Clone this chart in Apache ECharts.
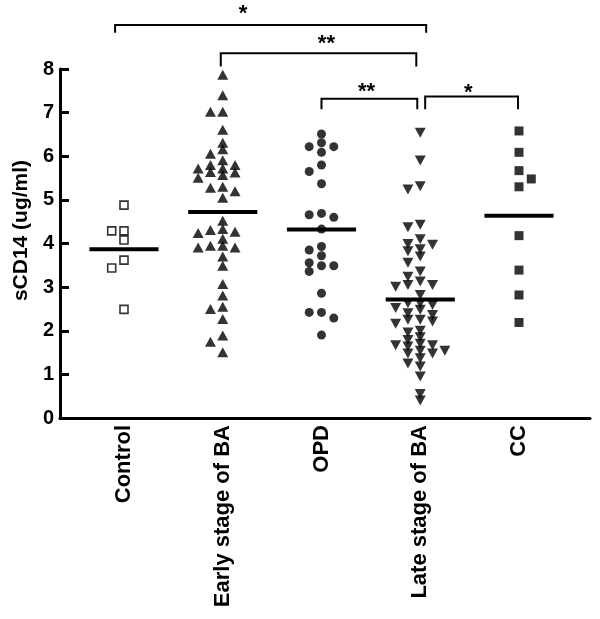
<!DOCTYPE html>
<html><head><meta charset="utf-8">
<script src="https://cdn.jsdelivr.net/npm/echarts@6/dist/echarts.min.js"></script>
<style>html,body{margin:0;padding:0;background:#fff}#c{width:600px;height:619px}</style>
</head><body><div id="c"></div>
<script>
// ---- data ----
const categories = ['Control', 'Early stage of BA', 'OPD', 'Late stage of BA', 'CC'];
const controlVals = [4.88, 4.29, 4.29, 4.08, 3.62, 3.44, 2.49];
const earlyVals = [7.87, 7.40, 7.02, 7.02, 6.61, 6.31, 6.16, 6.06, 5.91, 5.80, 5.80, 5.72, 5.72, 5.64, 5.63, 5.57, 5.51, 5.30, 5.28, 5.20, 5.05,
  4.52, 4.33, 4.31, 4.27, 4.24, 4.11, 3.95, 3.95, 3.91, 3.91, 3.70, 3.49, 3.07, 2.81, 2.55, 2.50, 2.27, 1.89, 1.75, 1.51];
const opdVals = [6.51, 6.31, 6.22, 6.22, 6.09, 5.80, 5.65, 5.37, 4.69, 4.66, 4.60, 4.33, 3.93, 3.85, 3.72, 3.56, 3.49, 3.49, 3.36, 2.86, 2.42, 2.42, 2.29, 1.90];
const lateVals = [6.54, 5.90, 5.31, 5.24, 4.43, 4.37, 4.10, 3.99, 3.97, 3.87, 3.82, 3.70, 3.56, 3.36, 3.24, 3.13, 3.05, 3.05, 3.01, 2.82,
  2.63, 2.63, 2.59, 2.52, 2.48, 2.40, 2.36, 2.25, 2.25, 2.21, 2.16, 2.00, 1.96, 1.85, 1.79, 1.70, 1.67, 1.67, 1.64, 1.54, 1.54, 1.48, 1.48,
  1.37, 1.25, 1.18, 0.95, 0.55, 0.40];
const ccVals = [6.58, 6.09, 5.67, 5.48, 5.30, 4.18, 3.39, 2.82, 2.19];
const yTickValues = [0, 1, 2, 3, 4, 5, 6, 7, 8];
const comparisons = [
  { from: 0, to: 3, label: '*' },
  { from: 1, to: 3, label: '**' },
  { from: 2, to: 3, label: '**' },
  { from: 3, to: 4, label: '*' }
];

// ---- layout / style ----
const FONT = 'Liberation Sans, Arial, sans-serif';
const SLOT = 0.1245;      // horizontal spacing of jittered points (category units)
const bracketLayout = [
  { x1: -0.09, x2: 3.06, y: 9.01, leg: 0.18, lx: 1.205, ly: 9.40 },
  { x1: 0.98, x2: 2.96, y: 8.36, leg: 0.30, lx: 2.05, ly: 8.71 },
  { x1: 2.00, x2: 2.97, y: 7.32, leg: 0.24, lx: 2.457, ly: 7.61 },
  { x1: 3.05, x2: 3.99, y: 7.37, leg: 0.29, lx: 3.486, ly: 7.60 }
];

// column-scatter layout: each point goes to the first free slot
function swarm(vals, ci, minGap, firstSide) {
  const order = vals.map((v, i) => i).sort((a, b) => vals[b] - vals[a]);
  const placed = [];
  const out = new Array(vals.length);
  const f = firstSide;
  const cand = [0, f, -f, 2 * f, -2 * f, 3 * f, -3 * f, 4 * f, -4 * f];
  for (const i of order) {
    const v = vals[i];
    for (const s of cand) {
      if (!placed.some(p => p.s === s && Math.abs(p.v - v) < minGap - 1e-9)) {
        placed.push({ s, v });
        out[i] = [ci + s * SLOT, v];
        break;
      }
    }
  }
  return out;
}
const mean = a => a.reduce((s, v) => s + v, 0) / a.length;
const groups = [controlVals, earlyVals, opdVals, lateVals, ccVals];
const means = groups.map((g, i) => [i, mean(g)]);

const chart = echarts.init(document.getElementById('c'), null, { renderer: 'canvas' });

const scatterBase = { type: 'scatter', z: 3, itemStyle: { color: '#000' } };

chart.setOption({
  animation: false,
  backgroundColor: '#fff',
  grid: { left: 60, right: 10, top: 69, bottom: 201, containLabel: false },
  xAxis: {
    type: 'value', min: -0.648, max: 4.719,
    axisLine: { show: true, onZero: false, lineStyle: { color: '#000', width: 3 } },
    axisTick: { show: false },
    splitLine: { show: false },
    axisLabel: {
      customValues: [0, 1, 2, 3, 4],
      formatter: v => categories[Math.round(v)],
      rotate: 90, margin: 7,
      color: '#000', fontFamily: FONT, fontWeight: 'bold', fontSize: 22
    }
  },
  yAxis: {
    type: 'value', min: 0, max: 8, interval: 1,
    axisLine: { show: true, onZero: false, lineStyle: { color: '#000', width: 3 } },
    axisTick: { show: true, inside: true, length: 9, lineStyle: { color: '#000', width: 3 } },
    splitLine: { show: false },
    axisLabel: {
      margin: 6, color: '#000', fontFamily: FONT, fontWeight: 'bold', fontSize: 20,
      formatter: v => yTickValues.includes(v) ? String(v) : ''
    },
    name: 'sCD14 (ug/ml)', nameLocation: 'middle', nameGap: 28, nameRotate: 90,
    nameTextStyle: { color: '#000', fontFamily: FONT, fontWeight: 'bold', fontSize: 21, padding: [0, 0, 0, 26] }
  },
  series: [
    Object.assign({}, scatterBase, {
      name: categories[0], data: swarm(controlVals, 0, 0.21, -1), symbol: 'rect', symbolSize: 8,
      itemStyle: { color: '#fff', borderColor: '#000', borderWidth: 1.6 }
    }),
    Object.assign({}, scatterBase, { name: categories[1], data: swarm(earlyVals, 1, 0.15, -1), symbol: 'triangle', symbolSize: [11, 10] }),
    Object.assign({}, scatterBase, { name: categories[2], data: swarm(opdVals, 2, 0.2, -1), symbol: 'circle', symbolSize: 9 }),
    Object.assign({}, scatterBase, { name: categories[3], data: swarm(lateVals, 3, 0.15, -1), symbol: 'triangle', symbolRotate: 180, symbolSize: [11, 10] }),
    Object.assign({}, scatterBase, { name: categories[4], data: swarm(ccVals, 4, 0.21, 1), symbol: 'rect', symbolSize: 9 }),
    {
      type: 'custom', name: 'mean', z: 5, data: means,
      renderItem: (params, api) => {
        const x = api.value(0), y = api.value(1);
        const p1 = api.coord([x - 0.35, y]), p2 = api.coord([x + 0.35, y]);
        return { type: 'line', shape: { x1: p1[0], y1: p1[1], x2: p2[0], y2: p2[1] }, style: { stroke: '#000', lineWidth: 4 } };
      }
    },
    {
      type: 'custom', name: 'brackets', z: 5, clip: false,
      data: comparisons.map((c, i) => [c.from, c.to, i]),
      renderItem: (params, api) => {
        const i = api.value(2);
        const L = bracketLayout[i];
        const a = api.coord([L.x1, L.y - L.leg]), b = api.coord([L.x1, L.y]);
        const c = api.coord([L.x2, L.y]), d = api.coord([L.x2, L.y - L.leg]);
        const t = api.coord([L.lx, L.ly]);
        return {
          type: 'group', children: [
            { type: 'polyline', shape: { points: [a, b, c, d] }, style: { stroke: '#000', lineWidth: 2, fill: null } },
            { type: 'text', style: { text: comparisons[i].label, x: t[0], y: t[1] + 6, textAlign: 'center', textVerticalAlign: 'middle', font: 'bold 22px ' + FONT, fill: '#000' } }
          ]
        };
      }
    }
  ]
});
</script>
</body></html>
